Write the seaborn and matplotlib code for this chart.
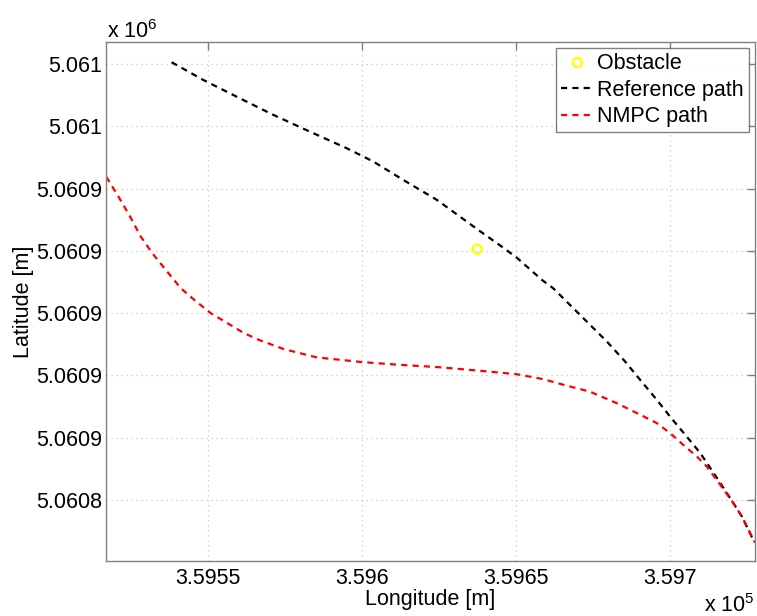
import numpy as np
import pandas as pd
import matplotlib
matplotlib.use("Agg")
import matplotlib.pyplot as plt
from matplotlib.ticker import MultipleLocator, FuncFormatter
from matplotlib.lines import Line2D
import seaborn as sns

# Reference path (longitude / latitude in metres)
ref_lon = [359538.2, 359548.5, 359560.4, 359571.2, 359583.1, 359595.0, 359603.7,
           359613.4, 359624.3, 359637.8, 359645.5, 359650.3, 359658.4, 359662.1,
           359668.1, 359673.5, 359679.5, 359685.4, 359690.3, 359695.7, 359700.0,
           359705.4, 359709.8, 359716.3, 359720.5, 359723.4, 359727.0]
ref_lat = [5060980.6, 5060974.9, 5060969.0, 5060963.7, 5060958.3, 5060953.0, 5060948.7,
           5060942.8, 5060936.4, 5060926.7, 5060921.3, 5060917.8, 5060910.7, 5060908.0,
           5060902.1, 5060896.8, 5060890.9, 5060884.5, 5060878.6, 5060872.2, 5060866.8,
           5060860.4, 5060855.1, 5060845.5, 5060839.1, 5060834.6, 5060827.2]

# NMPC path
nmpc_lon = [359516.9, 359517.3, 359520.6, 359524.4, 359528.2, 359531.9, 359536.3,
            359541.2, 359545.5, 359550.9, 359556.3, 359561.7, 359566.6, 359574.5,
            359585.3, 359599.9, 359612.4, 359624.3, 359637.3, 359650.2, 359658.9,
            359665.4, 359674.0, 359682.7, 359690.3, 359695.7, 359700.0, 359704.3,
            359708.7, 359712.0, 359716.3, 359720.5, 359723.4, 359727.6]
nmpc_lat = [5060943.8, 5060943.3, 5060938.0, 5060931.6, 5060924.6, 5060919.3, 5060913.9,
            5060908.0, 5060904.3, 5060900.0, 5060896.8, 5060893.6, 5060891.4, 5060888.5,
            5060885.8, 5060884.3, 5060883.4, 5060882.7, 5060881.6, 5060880.4, 5060878.8,
            5060877.0, 5060874.8, 5060871.1, 5060867.4, 5060864.7, 5060861.5, 5060857.7,
            5060854.0, 5060850.7, 5060844.9, 5060839.1, 5060834.6, 5060826.3]

# Obstacle
obs_lon = [359637.4]
obs_lat = [5060920.6]

sns.set_style("white")
plt.rcParams['font.family'] = ['Liberation Sans', 'DejaVu Sans']
plt.rcParams['mathtext.fontset'] = 'custom'
plt.rcParams['mathtext.rm'] = 'Liberation Sans'
plt.rcParams['mathtext.it'] = 'Liberation Sans'
plt.rcParams['text.color'] = 'black'
plt.rcParams['axes.labelcolor'] = 'black'

FS = 15.5

ref_df = pd.DataFrame({"lon": ref_lon, "lat": ref_lat})
nmpc_df = pd.DataFrame({"lon": nmpc_lon, "lat": nmpc_lat})
obs_df = pd.DataFrame({"lon": obs_lon, "lat": obs_lat})

fig = plt.figure(figsize=(7.57, 6.16), dpi=100)
ax = fig.add_axes([106 / 757, 1 - 561 / 616, (755 - 106) / 757, (561 - 42) / 616])

dash = (0, (2.8, 2.3))
sns.scatterplot(data=obs_df, x="lon", y="lat", ax=ax, marker="o", s=42,
                facecolor="none", edgecolor="#ffff00", linewidth=1.7, zorder=3)
sns.lineplot(data=ref_df, x="lon", y="lat", ax=ax, sort=False, color="black",
             linewidth=1.6, linestyle=dash, estimator=None)
sns.lineplot(data=nmpc_df, x="lon", y="lat", ax=ax, sort=False, color="#ff0000",
             linewidth=1.6, linestyle=dash, estimator=None)

ax.set_xlim(359516.9, 359727.6)
ax.set_ylim(5060820.4, 5060987.1)
ax.xaxis.set_major_locator(MultipleLocator(50))
ax.yaxis.set_major_locator(MultipleLocator(20))
ax.xaxis.set_major_formatter(FuncFormatter(lambda v, p: f"{v / 1e5:.4f}".rstrip('0').rstrip('.')))
ax.yaxis.set_major_formatter(FuncFormatter(lambda v, p: f"{v / 1e6:.4f}".rstrip('0').rstrip('.')))

ax.grid(True, color="#c8c8c8", linestyle=(0, (1, 3)), linewidth=0.9)
for s in ax.spines.values():
    s.set_color("#808080")
    s.set_linewidth(1.0)
ax.tick_params(direction="in", length=6, width=1, color="#808080", labelsize=FS,
               labelcolor="black", top=True, right=True)
ax.tick_params(axis="y", pad=3)
ax.tick_params(axis="x", pad=5)

ax.set_xlabel("Longitude [m]", fontsize=FS, labelpad=0, color="black")
ax.set_ylabel("Latitude [m]", fontsize=FS, labelpad=1, color="black")

fig.text(107 / 757, 1 - 38 / 616, r"x 10$^{6}$", fontsize=FS, ha="left", va="baseline")
fig.text(755 / 757, 1 - 612 / 616, r"x 10$^{5}$", fontsize=FS, ha="right", va="baseline")

handles = [
    Line2D([], [], marker="o", linestyle="none", markerfacecolor="none",
           markeredgecolor="#ffff00", markeredgewidth=1.7, markersize=6.5),
    Line2D([], [], color="black", linewidth=1.6, linestyle=dash),
    Line2D([], [], color="#ff0000", linewidth=1.6, linestyle=dash),
]
leg = ax.legend(handles, ["Obstacle", "Reference path", "NMPC path"],
                loc="upper right", fontsize=FS, frameon=True, fancybox=False,
                handlelength=1.55, handletextpad=0.15, borderpad=0.22,
                labelspacing=0.26, borderaxespad=0.3, labelcolor="black")
leg.get_frame().set_edgecolor("#606060")
leg.get_frame().set_linewidth(1.0)

fig.savefig("out.png", dpi=100)
